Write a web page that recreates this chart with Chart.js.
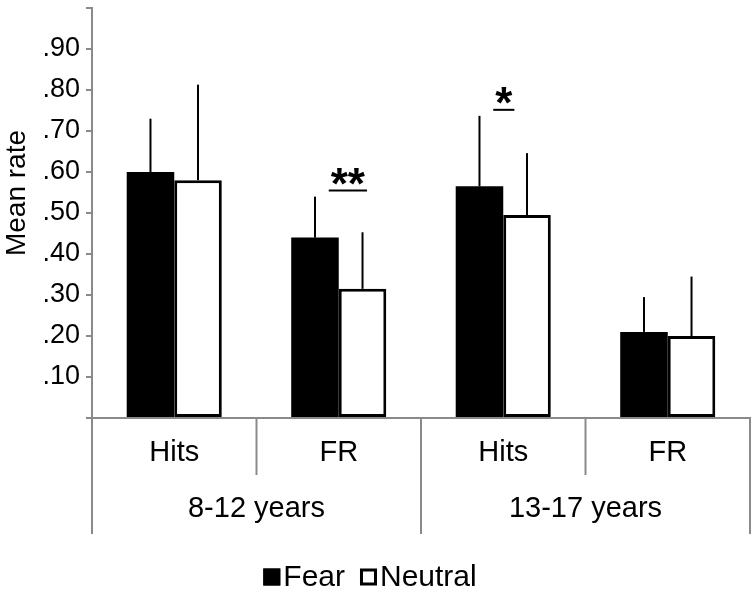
<!DOCTYPE html>
<html>
<head>
<meta charset="utf-8">
<script src="https://cdn.jsdelivr.net/npm/chart.js@4"></script>
<style>
  html, body { margin: 0; padding: 0; background: #fff; }
  #wrap { width: 756px; height: 595px; }
</style>
</head>
<body>
<div id="wrap"><canvas id="c" width="756" height="595"></canvas></div>
<script>
// ---- data ----
const categories = ['Hits', 'FR', 'Hits', 'FR'];
const groups = ['8-12 years', '13-17 years'];
const seriesNames = ['Fear', 'Neutral'];
const fearMeans = [0.60, 0.44, 0.565, 0.21];
const neutralMeans = [0.58, 0.315, 0.495, 0.20];
const fearSD = [0.13, 0.10, 0.172, 0.085];
const neutralSD = [0.233, 0.138, 0.151, 0.145];
const significance = ['', '**', '*', ''];
const yTitle = 'Mean rate';
const yMin = 0, yMax = 1.0, yStep = 0.1;

const FONT = '"Liberation Sans", Arial, Helvetica, sans-serif';
const GRAY = '#8a8a8a';

const errorBarPlugin = {
  id: 'errorBars',
  afterDatasetsDraw(chart) {
    const ctx = chart.ctx;
    const y = chart.scales.y;
    const sds = [fearSD, neutralSD];
    ctx.save();
    ctx.strokeStyle = '#000';
    ctx.lineWidth = 2;
    chart.data.datasets.forEach((ds, di) => {
      const meta = chart.getDatasetMeta(di);
      meta.data.forEach((bar, i) => {
        const top = y.getPixelForValue(ds.data[i] + sds[di][i]);
        const base = y.getPixelForValue(ds.data[i]);
        ctx.beginPath();
        ctx.moveTo(bar.x, base);
        ctx.lineTo(bar.x, top);
        ctx.stroke();
      });
    });
    // significance markers
    const x = chart.scales.x;
    significance.forEach((s, i) => {
      if (!s) return;
      const topVal = Math.max(fearMeans[i] + fearSD[i], neutralMeans[i] + neutralSD[i]);
      const ly = y.getPixelForValue(topVal) - 6;
      const cx = x.getPixelForValue(i);
      ctx.font = 'bold 44px ' + FONT;
      const w = ctx.measureText(s).width;
      const x0 = cx - 10, x1 = cx - 10 + w + 4;
      ctx.lineWidth = 2;
      ctx.beginPath();
      ctx.moveTo(x0, ly);
      ctx.lineTo(x1, ly);
      ctx.stroke();
      ctx.fillStyle = '#000';
      ctx.textAlign = 'center';
      ctx.textBaseline = 'alphabetic';
      ctx.fillText(s, (x0 + x1) / 2, ly + 8);
    });
    ctx.restore();
  }
};

const categoryAxisPlugin = {
  id: 'catAxis',
  afterDraw(chart) {
    const ctx = chart.ctx;
    const x = chart.scales.x;
    const area = chart.chartArea;
    const n = categories.length;
    const cw = (area.right - area.left) / n;
    const perGroup = n / groups.length;
    ctx.save();
    ctx.strokeStyle = GRAY;
    ctx.lineWidth = 2;
    for (let i = 0; i <= n; i++) {
      const bx = area.left + i * cw;
      const long = (i % perGroup === 0);
      ctx.beginPath();
      ctx.moveTo(bx, area.bottom);
      ctx.lineTo(bx, area.bottom + (long ? 116 : 57));
      ctx.stroke();
    }
    ctx.fillStyle = '#000';
    ctx.textAlign = 'center';
    ctx.textBaseline = 'middle';
    ctx.font = '29px ' + FONT;
    categories.forEach((c, i) => {
      ctx.fillText(c, x.getPixelForValue(i), area.bottom + 35);
    });
    groups.forEach((g, gi) => {
      const cx = area.left + (gi + 0.5) * perGroup * cw;
      ctx.fillText(g, cx, area.bottom + 91);
    });

    // y-axis title
    ctx.save();
    ctx.translate(17, 193);
    ctx.rotate(-Math.PI / 2);
    ctx.font = '28px ' + FONT;
    ctx.textAlign = 'center';
    ctx.textBaseline = 'middle';
    ctx.fillText(yTitle, 0, 0);
    ctx.restore();

    // legend
    ctx.font = '30px ' + FONT;
    ctx.textBaseline = 'middle';
    const box = 17;
    const items = chart.data.datasets.map(ds => ({
      label: ds.label, fill: ds.backgroundColor,
      w: box + 3 + ctx.measureText(ds.label).width
    }));
    const gap = 15;
    const total = items.reduce((a, it) => a + it.w, 0) + gap * (items.length - 1);
    let lx = chart.width / 2 - 8 - total / 2;
    const ly = 577;
    items.forEach(it => {
      ctx.fillStyle = it.fill;
      ctx.fillRect(lx, ly - box / 2, box, box);
      ctx.strokeStyle = '#000';
      ctx.lineWidth = 3;
      ctx.strokeRect(lx + 1.5, ly - box / 2 + 1.5, box - 3, box - 3);
      ctx.fillStyle = '#000';
      ctx.textAlign = 'left';
      ctx.fillText(it.label, lx + box + 3, ly + 1);
      lx += it.w + gap;
    });
    ctx.restore();
  }
};

new Chart(document.getElementById('c'), {
  type: 'bar',
  data: {
    labels: categories,
    datasets: [
      {
        label: seriesNames[0], data: fearMeans,
        backgroundColor: '#000', borderColor: '#000', borderWidth: 0
      },
      {
        label: seriesNames[1], data: neutralMeans,
        backgroundColor: '#fff', borderColor: '#000', borderWidth: 3, borderSkipped: false
      }
    ]
  },
  options: {
    responsive: false,
    animation: false,
    layout: { padding: { left: 0, top: 8, right: 6, bottom: 0 } },
    datasets: { bar: { categoryPercentage: 0.578, barPercentage: 1.0 } },
    plugins: { legend: { display: false }, tooltip: { enabled: false } },
    scales: {
      x: {
        ticks: { display: false },
        grid: { display: false },
        border: { display: true, color: GRAY, width: 2 },
        afterFit(scale) { scale.height = 177; scale.paddingLeft = 0; scale.paddingRight = 0; }
      },
      y: {
        min: yMin, max: yMax,
        ticks: {
          stepSize: yStep, padding: 6, color: '#000',
          font: { family: FONT, size: 27 },
          callback: v => (v > 0.001 && v < yMax - 0.001) ? v.toFixed(2).replace(/^0/, '') : ''
        },
        grid: { display: true, drawOnChartArea: false, drawTicks: true, tickLength: 6, color: GRAY, lineWidth: 2 },
        border: { display: true, color: GRAY, width: 2 },
        title: { display: false },
        afterFit(scale) { scale.width = 92; scale.paddingTop = 0; scale.paddingBottom = 0; }
      }
    }
  },
  plugins: [errorBarPlugin, categoryAxisPlugin]
});
</script>
</body>
</html>
